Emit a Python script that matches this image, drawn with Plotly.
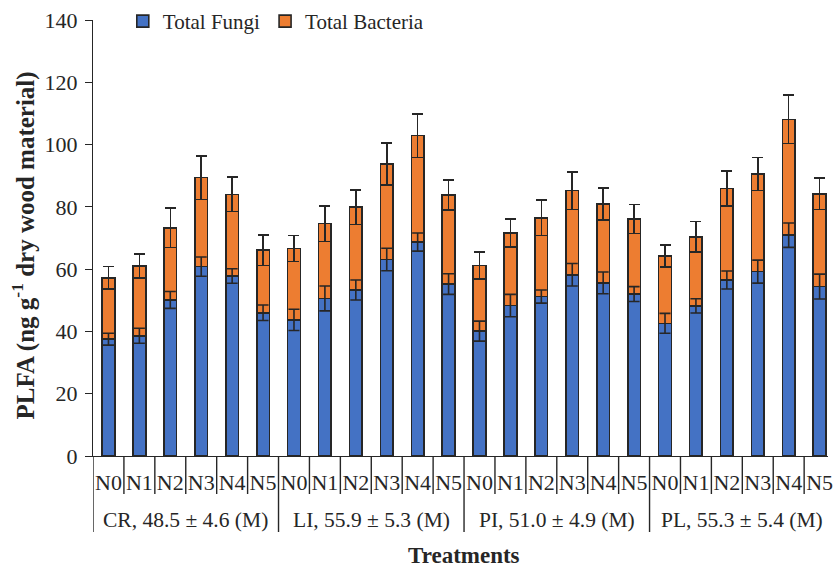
import plotly.graph_objects as go

# ---- data ----
groups = ["CR, 48.5 ± 4.6 (M)", "LI, 55.9 ± 5.3 (M)", "PI, 51.0 ± 4.9 (M)", "PL, 55.3 ± 5.4 (M)"]
levels = ["N0", "N1", "N2", "N3", "N4", "N5"]

fungi = [37.5, 38.6, 50.1, 60.8, 57.8, 46.0,
         43.7, 50.6, 53.3, 63.1, 68.7, 55.2,
         40.1, 48.3, 51.2, 58.2, 55.6, 52.0,
         42.6, 48.2, 56.5, 59.2, 70.9, 54.4]
fungi_sd = [1.9, 2.4, 2.7, 3.1, 2.35, 2.5,
            3.4, 4.0, 3.2, 3.6, 2.9, 3.3,
            3.2, 3.6, 2.1, 3.6, 3.5, 2.4,
            3.2, 2.3, 2.9, 3.7, 3.9, 4.0]
total = [57.2, 61.0, 73.3, 89.4, 84.0, 66.1,
         66.6, 74.6, 79.9, 93.8, 102.9, 83.8,
         61.2, 71.6, 76.5, 85.2, 80.9, 76.1,
         64.2, 70.4, 85.9, 90.6, 108.1, 84.2]
total_sd = [3.6, 3.9, 6.3, 7.0, 5.5, 4.9,
            4.2, 5.7, 5.5, 6.8, 7.0, 4.8,
            4.3, 4.5, 5.7, 6.0, 5.1, 4.7,
            3.5, 4.9, 5.6, 5.3, 7.8, 5.0]
bacteria = [round(t - f, 2) for t, f in zip(total, fungi)]

# ---- build ----
n_cat = len(groups) * len(levels)
xs = list(range(n_cat))
ticktext = levels * len(groups)

FONT = "Liberation Serif, Times New Roman, serif"
INK = "#262626"
BLUE = "#4472C4"
ORANGE = "#ED7D31"

fig = go.Figure()
fig.add_trace(go.Bar(
    x=xs, y=fungi, name="Total Fungi",
    marker=dict(color=BLUE, line=dict(color=INK, width=1.6)),
))
fig.add_trace(go.Bar(
    x=xs, y=bacteria, name="Total Bacteria",
    marker=dict(color=ORANGE, line=dict(color=INK, width=1.6)),
    error_y=dict(type="data", array=total_sd, visible=True, color=INK, thickness=1.6, width=5.5),
))
# fungi error bars drawn above the stacked bars
fig.add_trace(go.Scatter(
    x=xs, y=fungi, mode="markers", showlegend=False, hoverinfo="skip",
    marker=dict(size=1, opacity=0),
    error_y=dict(type="data", array=fungi_sd, visible=True, color=INK, thickness=1.6, width=5.5),
))

W, H = 833, 570
ML, MR, MT, MB = 93, 0, 20, 114
pw = W - ML - MR
ph = H - MT - MB
cat_px = 31.13
x_max = -0.5 + pw / cat_px

def px_to_paper_y(py):
    return (H - MB - py) / ph

def px_to_paper_x(px):
    return (px - ML) / pw

shapes = []
for k in range(n_cat + 1):
    b = k - 0.5
    long = (k % len(levels) == 0)
    shapes.append(dict(
        type="line", xref="x", yref="paper",
        x0=b, x1=b, y0=0, y1=px_to_paper_y(532 if long else 494),
        line=dict(color=INK, width=1.4),
    ))

annotations = []
for gi, g in enumerate(groups):
    annotations.append(dict(
        text=g, xref="x", yref="paper",
        x=gi * len(levels) + (len(levels) - 1) / 2, y=px_to_paper_y(520),
        xanchor="center", yanchor="middle", showarrow=False,
        font=dict(family=FONT, size=21.5, color=INK),
    ))
annotations.append(dict(
    text="<b>Treatments</b>", xref="paper", yref="paper",
    x=px_to_paper_x(467), y=px_to_paper_y(555),
    xanchor="center", yanchor="middle", showarrow=False,
    font=dict(family=FONT, size=23, color=INK),
))
annotations.append(dict(
    text="<b>PLFA (ng g<sup>-1</sup> dry wood material)</b>", xref="paper", yref="paper",
    x=px_to_paper_x(24), y=px_to_paper_y(245), textangle=-90,
    xanchor="center", yanchor="middle", showarrow=False,
    font=dict(family=FONT, size=25, color=INK),
))

fig.update_layout(
    width=W, height=H,
    margin=dict(l=ML, r=MR, t=MT, b=MB, pad=0),
    paper_bgcolor="white", plot_bgcolor="white",
    barmode="stack", bargap=0.59,
    font=dict(family=FONT, size=20, color=INK),
    showlegend=True,
    legend=dict(
        orientation="h", x=px_to_paper_x(123), y=px_to_paper_y(1),
        xanchor="left", yanchor="top",
        font=dict(family=FONT, size=21, color=INK),
        bgcolor="rgba(0,0,0,0)", itemwidth=30,
        traceorder="normal",
    ),
    xaxis=dict(
        range=[-0.5, x_max], tickmode="array", tickvals=xs, ticktext=ticktext,
        ticks="", showgrid=False, zeroline=False,
        showline=True, linecolor=INK, linewidth=1.4,
        tickfont=dict(family=FONT, size=22, color=INK),
        ticklabelstandoff=6, ticklabeloverflow="allow",
    ),
    yaxis=dict(
        range=[0, 140], dtick=20, ticks="outside", ticklen=7, tickwidth=1.4, tickcolor=INK,
        showgrid=False, zeroline=False,
        showline=True, linecolor=INK, linewidth=1.4,
        tickfont=dict(family=FONT, size=22, color=INK),
        ticklabelstandoff=3,
    ),
    shapes=shapes,
    annotations=annotations,
)

fig.write_html("out.html")
